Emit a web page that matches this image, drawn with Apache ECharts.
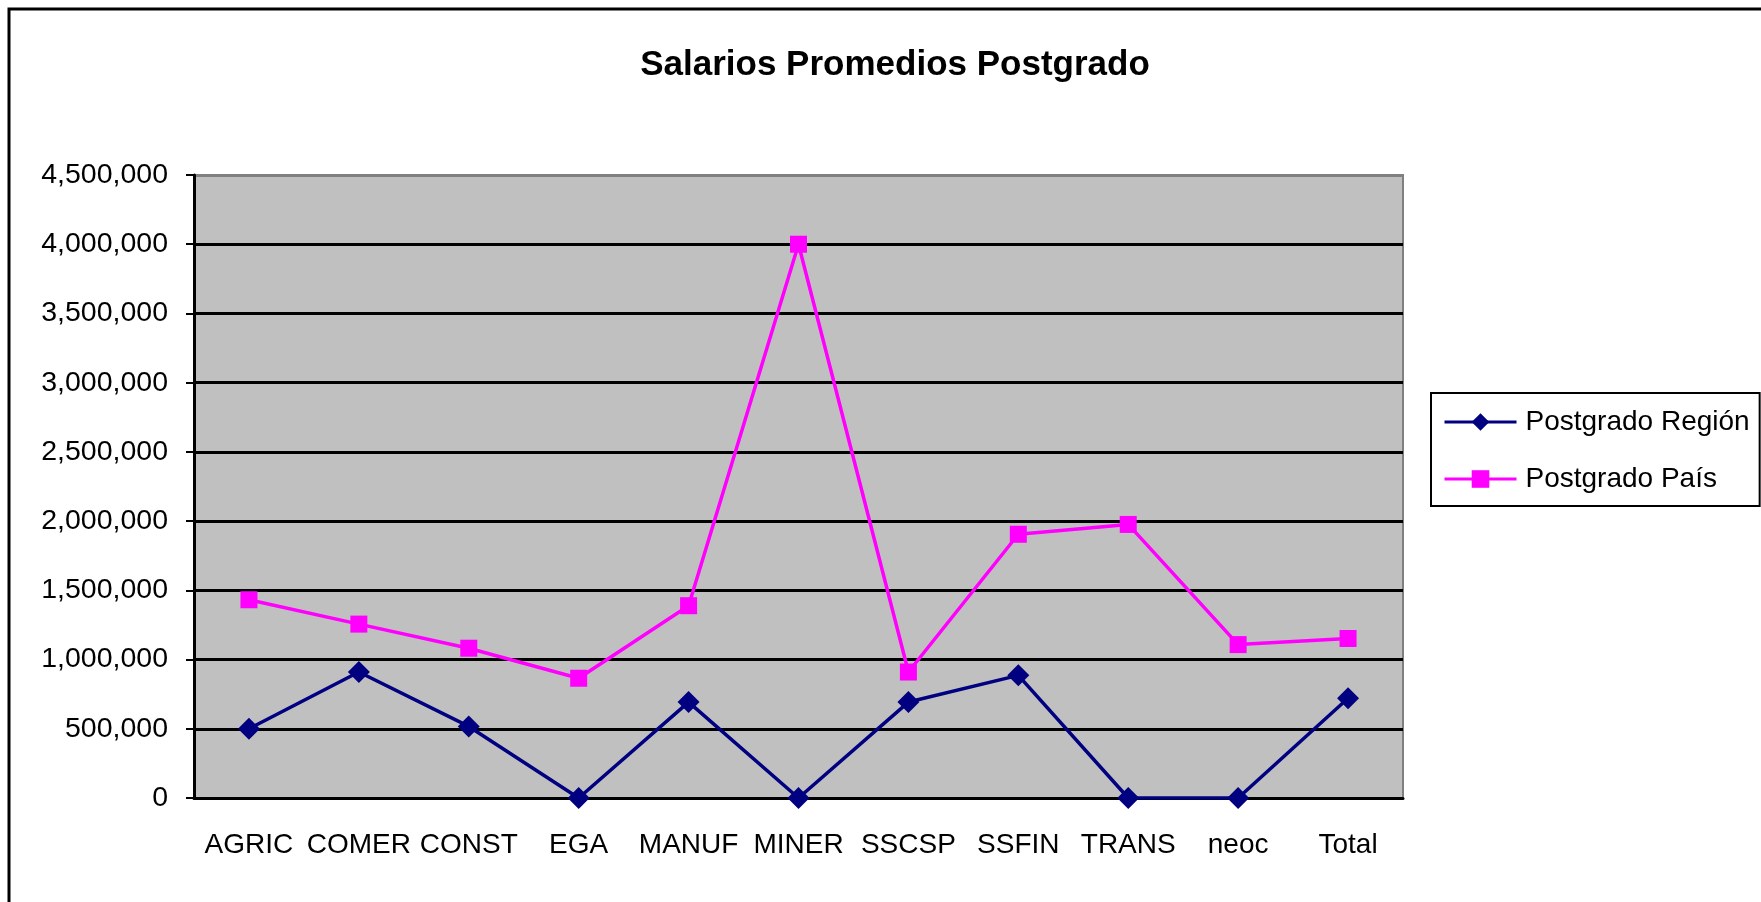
<!DOCTYPE html>
<html>
<head>
<meta charset="utf-8">
<script src="https://cdn.jsdelivr.net/npm/echarts@6/dist/echarts.min.js"></script>
<style>
	html, body { margin: 0; padding: 0; background: #fff; }
	#chart { width: 1761px; height: 902px; }
</style>
</head>
<body>
<div id="chart"></div>
<script type="text/javascript">
	// datos
	var categorias = ['AGRIC', 'COMER', 'CONST', 'EGA', 'MANUF', 'MINER', 'SSCSP', 'SSFIN', 'TRANS', 'neoc', 'Total'];
	var postgradoRegion = [500000, 910000, 517000, 0, 693000, 0, 693000, 886000, 0, 0, 720000];
	var postgradoPais = [1432000, 1256000, 1082000, 865000, 1389000, 4000000, 910000, 1905000, 1976000, 1108000, 1152000];
	var ejeY = { min: 0, max: 4500000, interval: 500000 };

	var fuente = 'Arial, "Liberation Sans", sans-serif';
	// lineas de division negras, la de arriba gris como el borde
	var coloresDivision = ['#000', '#000', '#000', '#000', '#000', '#000', '#000', '#000', '#000', '#808080'];

	var myChart = echarts.init(document.getElementById('chart'));
	var option = {
		backgroundColor: '#fff',
		animation: false,
		title: {
			text: 'Salarios Promedios Postgrado',
			left: 890,
			top: 43,
			textAlign: 'center',
			textStyle: { fontFamily: fuente, fontSize: 35, fontWeight: 'bold', color: '#000' }
		},
		graphic: [{
			type: 'rect',
			shape: { x: 9, y: 9, width: 1800, height: 1000 },
			style: { fill: 'none', stroke: '#000', lineWidth: 3 },
			z: 100
		}],
		legend: {
			orient: 'vertical',
			left: 1431,
			top: 393,
			padding: [14, 10, 12, 12],
			itemWidth: 72,
			itemHeight: 22,
			itemGap: 27,
			borderColor: '#000',
			borderWidth: 2,
			lineStyle: { width: 3 },
			textStyle: { fontFamily: fuente, fontSize: 28, color: '#000', lineHeight: 30, padding: [0, 0, 0, 4] },
			data: ['Postgrado Región', 'Postgrado País']
		},
		grid: {
			left: 194,
			right: 358,
			top: 175,
			bottom: 104,
			show: true,
			backgroundColor: '#C0C0C0',
			borderColor: '#808080',
			borderWidth: 2
		},
		xAxis: {
			type: 'category',
			data: categorias,
			boundaryGap: true,
			axisLine: { lineStyle: { color: '#000', width: 3 } },
			axisTick: { length: 10, lineStyle: { color: '#000', width: 2 } },
			axisLabel: { interval: 0, margin: 33, fontFamily: fuente, fontSize: 28, color: '#000' }
		},
		yAxis: {
			type: 'value',
			min: ejeY.min,
			max: ejeY.max,
			interval: ejeY.interval,
			axisLine: { show: true, lineStyle: { color: '#000', width: 3 } },
			axisTick: { show: true, length: 8, lineStyle: { color: '#000', width: 2 } },
			axisLabel: {
				margin: 26,
				fontFamily: fuente,
				fontSize: 28.5,
				color: '#000',
				formatter: function (v) { return v.toLocaleString('en-US'); }
			},
			splitLine: { lineStyle: { color: coloresDivision, width: 3 } }
		},
		series: [
			{
				name: 'Postgrado Región',
				type: 'line',
				data: postgradoRegion,
				symbol: 'diamond',
				symbolSize: 22,
				lineStyle: { color: '#000080', width: 3.5 },
				itemStyle: { color: '#000080' },
				z: 3
			},
			{
				name: 'Postgrado País',
				type: 'line',
				data: postgradoPais,
				symbol: 'rect',
				symbolSize: 17,
				lineStyle: { color: '#FF00FF', width: 3.5 },
				itemStyle: { color: '#FF00FF' },
				z: 2
			}
		]
	};
	myChart.setOption(option);
</script>
</body>
</html>
